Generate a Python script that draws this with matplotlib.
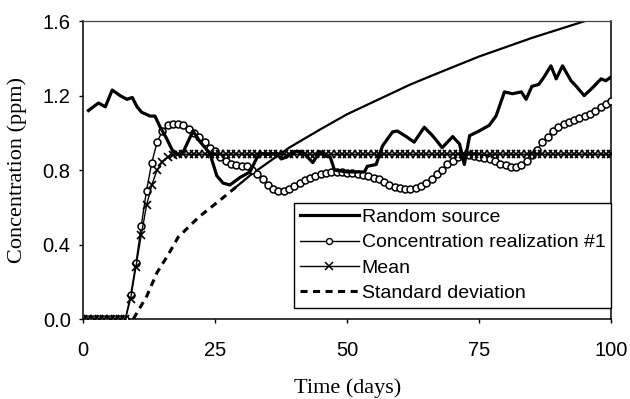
import matplotlib
matplotlib.use("Agg")
import matplotlib.pyplot as plt
from matplotlib.lines import Line2D

# --- data
hari = list(range(0, 101))

# concentration realization #1 (one value per day)
konsentrasi = [
    0.0, 0.0, 0.0, 0.0, 0.0, 0.0, 0.0, 0.0, 0.0, 0.13,
    0.30, 0.50, 0.69, 0.84, 0.95, 1.01, 1.04, 1.05, 1.05, 1.04,
    1.02, 1.00, 0.98, 0.95, 0.92, 0.90, 0.87, 0.85, 0.83, 0.825,
    0.82, 0.82, 0.80, 0.78, 0.75, 0.72, 0.70, 0.69, 0.69, 0.70,
    0.715, 0.73, 0.745, 0.76, 0.77, 0.78, 0.785, 0.79, 0.79, 0.79,
    0.785, 0.785, 0.78, 0.775, 0.77, 0.76, 0.75, 0.735, 0.72, 0.71,
    0.705, 0.70, 0.70, 0.705, 0.715, 0.73, 0.75, 0.78, 0.80, 0.83,
    0.85, 0.87, 0.875, 0.88, 0.875, 0.87, 0.865, 0.86, 0.85, 0.835,
    0.825, 0.815, 0.815, 0.825, 0.85, 0.88, 0.91, 0.95, 0.98, 1.01,
    1.03, 1.05, 1.06, 1.07, 1.08, 1.09, 1.10, 1.12, 1.14, 1.155,
    1.17,
]

# mean of the realizations (one value per day)
rata_rata = ([0.0] * 9
             + [0.11, 0.28, 0.45, 0.61, 0.72, 0.80, 0.845, 0.87, 0.88]
             + [0.885] * 83)

# random source
sumber_hari = [1, 2.9, 4.2, 5.5, 7, 8.3, 9.3, 10.2, 11.1, 12.7, 13.6, 14.6,
               15.8, 17, 18.2, 19, 20.8, 22.2, 24, 25.3, 26.5, 27.8, 29.7,
               31.6, 32.8, 33.5, 35, 36.7, 37.5, 38.5, 40, 41.5, 43.5, 44.8,
               46, 46.8, 47.6, 50, 53.3, 53.8, 55.5, 56.7, 58.6, 59.5, 61.2,
               62.7, 64.6, 66, 66.9, 68, 70, 71.3, 72.2, 73.2, 75, 76.9, 78.2,
               79.8, 81.3, 83, 83.9, 85, 86.3, 87.3, 88.6, 89.6, 90.8, 92.4,
               93.4, 94.9, 96.4, 98.1, 99, 100]
sumber = [1.12, 1.16, 1.14, 1.23, 1.20, 1.18, 1.19, 1.14, 1.11, 1.09, 1.09, 1.03,
          0.97, 0.90, 0.88, 0.90, 1.01, 0.95, 0.89, 0.77, 0.73, 0.72, 0.76,
          0.79, 0.86, 0.89, 0.885, 0.89, 0.86, 0.87, 0.90, 0.90, 0.84, 0.90,
          0.875, 0.87, 0.80, 0.79, 0.79, 0.82, 0.83, 0.93, 1.005, 1.01, 0.98,
          0.95, 1.03, 0.99, 0.96, 0.92, 0.98, 0.94, 0.83, 0.985, 1.01, 1.04, 1.09,
          1.22, 1.21, 1.22, 1.18, 1.25, 1.26, 1.30, 1.36, 1.29, 1.36, 1.28,
          1.25, 1.20, 1.24, 1.29, 1.28, 1.30]

# standard deviation
std_hari = [9.5, 12, 14, 16, 18, 22, 26, 29, 32, 36, 39, 45, 50, 56, 62, 68,
            75, 80, 85, 90, 95, 100]
std_nilai = [0.0, 0.12, 0.25, 0.34, 0.44, 0.55, 0.64, 0.71, 0.78, 0.86, 0.92,
             1.02, 1.10, 1.18, 1.26, 1.33, 1.41, 1.46, 1.51, 1.555, 1.60, 1.645]

label_seri = ["Random source", "Concentration realization #1", "Mean",
              "Standard deviation"]

# --- figure
fig = plt.figure(figsize=(6.3, 3.99), dpi=100)
ax = fig.add_axes([0.132, 0.2005, 0.838, 0.7465])

ax.plot(sumber_hari, sumber, color="black", lw=2.3, zorder=4)
ax.plot(hari, konsentrasi, color="black", lw=1.0, marker="o", ms=5.0,
        mfc="white", mec="black", mew=1.1, zorder=3)
ax.plot(hari, rata_rata, color="black", lw=1.0, marker="x", ms=6.0,
        mew=1.2, zorder=3)

# dashes look continuous after ~day 28 in the original
batas = 7
ax.plot(std_hari[:batas + 1], std_nilai[:batas + 1], color="black", lw=2.2,
        linestyle=(0, (2.3, 1.8)), zorder=2)
ax.plot(std_hari[batas:], std_nilai[batas:], color="black", lw=1.6, zorder=2)

ax.set_xlim(0, 100)
ax.set_ylim(0, 1.6)
ax.set_xticks([0, 25, 50, 75, 100])
ax.set_yticks([0.0, 0.4, 0.8, 1.2, 1.6])
ax.set_yticklabels(["0.0", "0.4", "0.8", "1.2", "1.6"])

for lbl in ax.get_xticklabels() + ax.get_yticklabels():
    lbl.set_fontfamily("Liberation Sans")
    lbl.set_fontsize(14.5)
ax.tick_params(axis="y", direction="out", length=3, width=1, pad=6)
ax.tick_params(axis="x", direction="out", length=3, width=1, pad=13)

for side in ["left", "bottom", "right"]:
    ax.spines[side].set_linewidth(1.1)
    ax.spines[side].set_color("black")
ax.spines["top"].set_linewidth(0.9)
ax.spines["top"].set_color("#444444")

ax.set_xlabel("Time (days)", family="Liberation Serif", fontsize=16,
              labelpad=13)
ax.set_ylabel("Concentration (ppm)", family="Liberation Serif", fontsize=16,
              labelpad=11)

# --- legend
handles = [
    Line2D([], [], color="black", lw=2.3),
    Line2D([], [], color="black", lw=1.0, marker="o", ms=4.3, mfc="white",
           mec="black"),
    Line2D([], [], color="black", lw=1.0, marker="x", ms=5.5, mew=1.1),
    Line2D([], [], color="black", lw=2.2, linestyle=(0, (2.3, 1.8))),
]
leg = ax.legend(handles, label_seri, loc="lower right",
                bbox_to_anchor=(1.0, 0.037), borderaxespad=0, numpoints=1,
                frameon=True, fancybox=False, handlelength=3.0,
                handletextpad=0.15, labelspacing=0.4, borderpad=0.3,
                prop={"family": "Liberation Sans", "size": 14})
leg.get_frame().set_edgecolor("black")
leg.get_frame().set_linewidth(1.0)
leg.get_frame().set_alpha(1.0)
leg.set_zorder(10)

fig.savefig("out.png", dpi=100)
